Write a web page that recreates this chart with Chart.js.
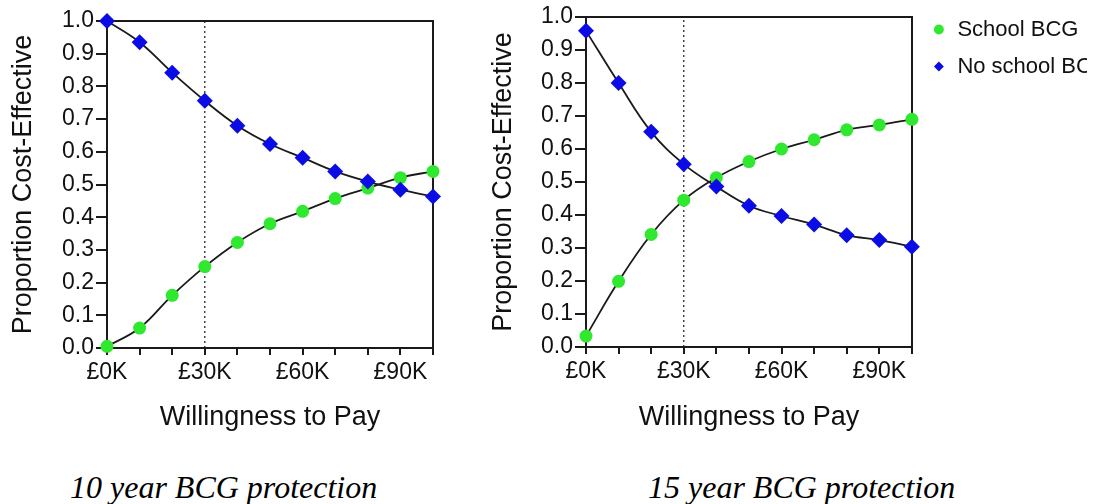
<!DOCTYPE html>
<html>
<head>
<meta charset="utf-8">
<title>Cost-effectiveness acceptability curves</title>
<script src="https://cdn.jsdelivr.net/npm/chart.js@4.4.1/dist/chart.umd.min.js"></script>
<style>
  html, body { margin: 0; padding: 0; background: #fff; overflow: hidden; }
  body { width: 1098px; height: 504px; position: relative; }
  .panel { position: absolute; top: 0; overflow: hidden; }
  .panel canvas { display: block; }
  #panelLeft { left: 0; width: 460px; height: 440px; }
  #panelRight { left: 480px; width: 607px; height: 440px; }
  .caption {
    position: absolute; top: 472px; white-space: nowrap; color: #000;
    font: italic 32px "Liberation Serif", "Times New Roman", serif; line-height: 30px;
  }
</style>
</head>
<body>
<div class="panel" id="panelLeft"><canvas id="chart10" width="460" height="440"></canvas></div>
<div class="panel" id="panelRight"><canvas id="chart15" width="639" height="440"></canvas></div>
<div class="caption" style="left:70px">10 year BCG protection</div>
<div class="caption" style="left:648px">15 year BCG protection</div>
<script>
// ── Acceptability curves ──
// Two panels: 10 and 15 year BCG protection, proportion cost-effective vs WTP.

// Willingness to pay (thousands of £) and the values
const wtpK = [0, 10, 20, 30, 40, 50, 60, 70, 80, 90, 100];
const school10 = [0.005, 0.061, 0.161, 0.249, 0.323, 0.380, 0.418, 0.457, 0.489, 0.521, 0.540];
const noSchool10 = [1.000, 0.935, 0.842, 0.756, 0.680, 0.624, 0.582, 0.540, 0.509, 0.484, 0.463];
const school15 = [0.033, 0.199, 0.341, 0.445, 0.513, 0.562, 0.600, 0.628, 0.658, 0.673, 0.690];
const noSchool15 = [0.958, 0.800, 0.652, 0.554, 0.486, 0.428, 0.397, 0.371, 0.339, 0.324, 0.304];
const thresholdK = 30;
const seriesNames = ['School BCG', 'No school BCG'];
const xTickLabelsK = [0, 30, 60, 90];

const GREEN = '#2fe82f';
const BLUE = '#0b0be6';
const INK = '#1a1a1a';

Chart.defaults.font.family = '"Liberation Sans", Arial, Helvetica, sans-serif';
Chart.defaults.color = '#111';

const toPoints = ys => wtpK.map((x, i) => ({ x, y: ys[i] }));

// Markers first (drawn on top), then the smooth black curves, then the 30K marker line
function buildDatasets(school, noSchool) {
  return [
    {
      label: seriesNames[0],
      data: toPoints(school),
      showLine: false,
      pointStyle: 'circle',
      pointRadius: 6.5,
      backgroundColor: GREEN,
      borderColor: GREEN,
      borderWidth: 0,
      clip: false,
      order: 1
    },
    {
      label: seriesNames[1],
      data: toPoints(noSchool),
      showLine: false,
      pointStyle: 'rectRot',
      pointRadius: 8,
      backgroundColor: BLUE,
      borderColor: BLUE,
      borderWidth: 0,
      clip: false,
      order: 0
    },
    {
      label: 'school curve',
      data: toPoints(school),
      showLine: true,
      borderColor: INK,
      borderWidth: 1.8,
      pointRadius: 0,
      tension: 0.4,
      fill: false,
      order: 2
    },
    {
      label: 'no school curve',
      data: toPoints(noSchool),
      showLine: true,
      borderColor: INK,
      borderWidth: 1.8,
      pointRadius: 0,
      tension: 0.4,
      fill: false,
      order: 2
    },
    {
      label: 'threshold',
      data: [{ x: thresholdK, y: 0 }, { x: thresholdK, y: 1 }],
      showLine: true,
      borderColor: INK,
      borderWidth: 1.2,
      borderDash: [2, 3],
      pointRadius: 0,
      order: 3
    }
  ];
}

// Axes: left/bottom with outside ticks, top/right just close the frame
function axisOpts(lay) {
  const border = { display: true, color: INK, width: 2 };
  return {
    x: {
      type: 'linear', position: 'bottom', min: 0, max: 100,
      ticks: {
        stepSize: 10, autoSkip: false, maxRotation: 0, padding: 4,
        font: { size: 23 }, color: '#111',
        callback: v => xTickLabelsK.includes(v) ? '£' + v + 'K' : ''
      },
      grid: { drawOnChartArea: false, tickLength: 7, lineWidth: 2, color: INK },
      border,
      title: { display: true, text: 'Willingness to Pay', font: { size: 27 }, color: '#111', padding: { top: 0, bottom: 6 } },
      afterFit: s => { s.height = lay.xHeight; }
    },
    y: {
      type: 'linear', position: 'left', min: 0, max: 1,
      ticks: { stepSize: 0.1, padding: 2, font: { size: 23 }, color: '#111', callback: v => v.toFixed(1) },
      grid: { drawOnChartArea: false, tickLength: 11, lineWidth: 2, color: INK },
      border,
      title: { display: true, text: 'Proportion Cost-Effective', font: { size: 27 }, color: '#111', padding: { top: 7, bottom: 0 } },
      afterFit: s => { s.width = lay.yWidth; }
    },
    xTop: {
      type: 'linear', position: 'top', min: 0, max: 100,
      ticks: { display: false },
      grid: { drawOnChartArea: false, drawTicks: false },
      border,
      afterFit: s => { s.height = lay.topHeight; }
    },
    yRight: {
      type: 'linear', position: 'right', min: 0, max: 1,
      ticks: { display: false },
      grid: { drawOnChartArea: false, drawTicks: false },
      border,
      afterFit: s => { s.width = lay.rightWidth; }
    }
  };
}

function legendOpts(show) {
  if (!show) return { display: false };
  return {
    display: true,
    position: 'right',
    align: 'start',
    maxWidth: 260,
    labels: {
      usePointStyle: true,
      boxWidth: 15,
      boxHeight: 7,
      padding: 15,
      font: { size: 22 },
      color: '#111',
      filter: item => item.datasetIndex < 2,
      sort: (a, b) => a.datasetIndex - b.datasetIndex
    }
  };
}

function createPanel(canvasId, school, noSchool, lay) {
  const canvas = document.getElementById(canvasId);
  if (!canvas) return null;
  return new Chart(canvas, {
    type: 'scatter',
    data: { datasets: buildDatasets(school, noSchool) },
    options: {
      responsive: false,
      animation: false,
      devicePixelRatio: 1,
      layout: { padding: lay.padding },
      plugins: {
        legend: legendOpts(lay.legend),
        tooltip: { enabled: false }
      },
      scales: axisOpts(lay)
    }
  });
}

createPanel('chart10', school10, noSchool10, {
  padding: { top: 21, right: 27, bottom: 0, left: 0 },
  yWidth: 107, xHeight: 92, topHeight: 0, rightWidth: 0, legend: false
});
createPanel('chart15', school15, noSchool15, {
  padding: { top: 3.5, right: 0, bottom: 0, left: 0 },
  yWidth: 106, xHeight: 93, topHeight: 13.5, rightWidth: 4.5, legend: true
});
</script>
</body>
</html>
